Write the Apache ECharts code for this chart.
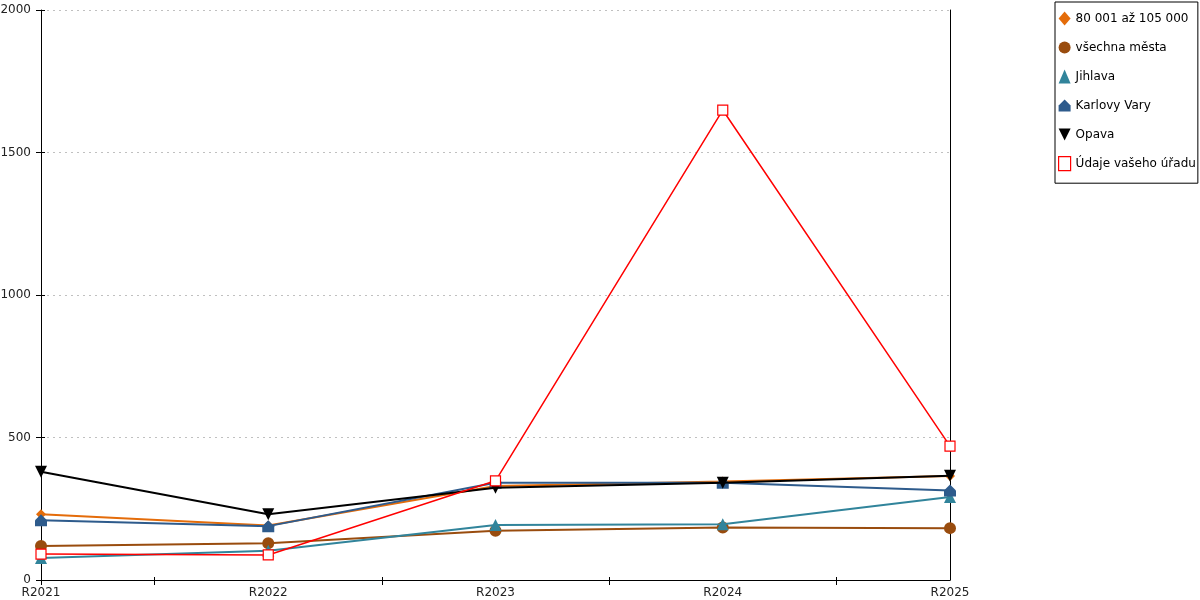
<!DOCTYPE html>
<html><head><meta charset="utf-8">
<script src="https://cdn.jsdelivr.net/npm/echarts@6/dist/echarts.min.js"></script>
<style>html,body{margin:0;padding:0;background:#fff}#c{width:1200px;height:600px}</style>
</head><body><div id="c"></div>
<script>
const categories = ['R2021','R2022','R2023','R2024','R2025'];
const yTicks = [0, 500, 1000, 1500, 2000];
const sNames = ['80 001 až 105 000','všechna města','Jihlava','Karlovy Vary','Opava','Údaje vašeho úřadu'];
const vSize = [231, 191, 330, 346, 365];
const vAll = [119, 129, 173, 184, 182];
const vJihlava = [77, 103, 193, 196, 291];
const vKarlovy = [210, 189, 341, 341, 314];
const vOpava = [380, 231, 324, 341, 366];
const vUrad = [91, 88, 348, 1649, 470];

const colors = ['#e46c0a','#994c0e','#31849b','#2e5b8c','#000000','#ff0000'];
const houseSym = 'path://M5,0 L10,5 L10,10 L0,10 L0,5 Z';
const downTri = 'path://M0,0 L10,0 L5,10 Z';
const symbols = ['diamond','circle','triangle',houseSym,downTri,'rect'];
const symSizes = [10, 12, 12, 12, 12, 10];
const allVals = [vSize, vAll, vJihlava, vKarlovy, vOpava, vUrad];

const series = sNames.map((n, k) => ({
  name: n,
  type: 'line',
  xAxisIndex: 0,
  yAxisIndex: 0,
  data: allVals[k].map((v, i) => [i, v]),
  symbol: symbols[k],
  symbolSize: symSizes[k],
  showAllSymbol: true,
  clip: false,
  lineStyle: { color: colors[k], width: k === 5 ? 1.5 : 2 },
  itemStyle: k === 5 ? { color: '#fff', borderColor: colors[k], borderWidth: 1.2 } : { color: colors[k], borderWidth: 0 },
  emphasis: { disabled: true },
  animation: false,
  z: 3 + k
}));

// tick helper categories: category positions interleaved with boundaries
const tickSlots = [];
categories.forEach((c, i) => { tickSlots.push(c); if (i < categories.length - 1) tickSlots.push(c + '|'); });

const chart = echarts.init(document.getElementById('c'), null, { renderer: 'canvas' });
chart.setOption({
  animation: false,
  textStyle: { fontFamily: 'DejaVu Sans' },
  grid: { left: 41, right: 250, top: 10, bottom: 20, containLabel: false, outerBoundsMode: 'none' },
  legend: {
    orient: 'vertical',
    left: 1055, top: 2,
    padding: [9, 2, 12, 3],
    itemGap: 14,
    itemWidth: 12, itemHeight: 14,
    borderColor: '#000', borderWidth: 1,
    textStyle: { fontFamily: 'DejaVu Sans', fontSize: 12, color: '#000', lineHeight: 15 },
    data: sNames.map((n, k) => ({ name: n, icon: symbols[k], itemStyle: k === 5 ? { color: '#fff', borderColor: '#ff0000', borderWidth: 1.2 } : { color: colors[k] } }))
  },
  xAxis: [{
    type: 'value', min: 0, max: categories.length - 1, interval: 1,
    axisLine: { lineStyle: { color: '#000', width: 1 } },
    axisTick: { show: false },
    splitLine: { show: false },
    axisLabel: {
      color: '#222', fontSize: 12, fontFamily: 'DejaVu Sans', margin: 7,
      showMinLabel: true, showMaxLabel: true,
      formatter: v => categories[v] !== undefined ? categories[v] : ''
    }
  }, {
    type: 'category', data: tickSlots, boundaryGap: false, position: 'bottom',
    axisLine: { show: false },
    axisTick: { show: true, length: 5, interval: i => i % 2 === 1 || i === 0, lineStyle: { color: '#000' } },
    axisLabel: { show: false }, splitLine: { show: false }
  }, {
    type: 'category', data: tickSlots, boundaryGap: false, position: 'bottom',
    axisLine: { show: false },
    axisTick: { show: true, inside: true, length: 3, interval: i => i % 2 === 1, lineStyle: { color: '#000' } },
    axisLabel: { show: false }, splitLine: { show: false }
  }],
  yAxis: [{
    type: 'value', min: 0, max: 2000, interval: 500,
    axisLine: { show: true, lineStyle: { color: '#000', width: 1 } },
    axisTick: { show: true, length: 5, lineStyle: { color: '#000' } },
    splitLine: { show: true, lineStyle: { color: '#c0c0c0', type: [2, 4], width: 1 } },
    axisLabel: { color: '#222', fontSize: 12, fontFamily: 'DejaVu Sans', margin: 10, formatter: v => yTicks.includes(v) ? String(v) : '' }
  }, {
    type: 'value', min: 0, max: 2000, interval: 500, position: 'left', offset: 0,
    axisLine: { show: false },
    axisTick: { show: true, inside: true, length: 4, lineStyle: { color: '#000' } },
    splitLine: { show: false }, axisLabel: { show: false }
  }, {
    type: 'value', min: 0, max: 2000, interval: 500, position: 'right',
    axisLine: { show: true, lineStyle: { color: '#000', width: 1 } },
    axisTick: { show: false }, splitLine: { show: false }, axisLabel: { show: false }
  }],
  series: series
});
</script></body></html>
